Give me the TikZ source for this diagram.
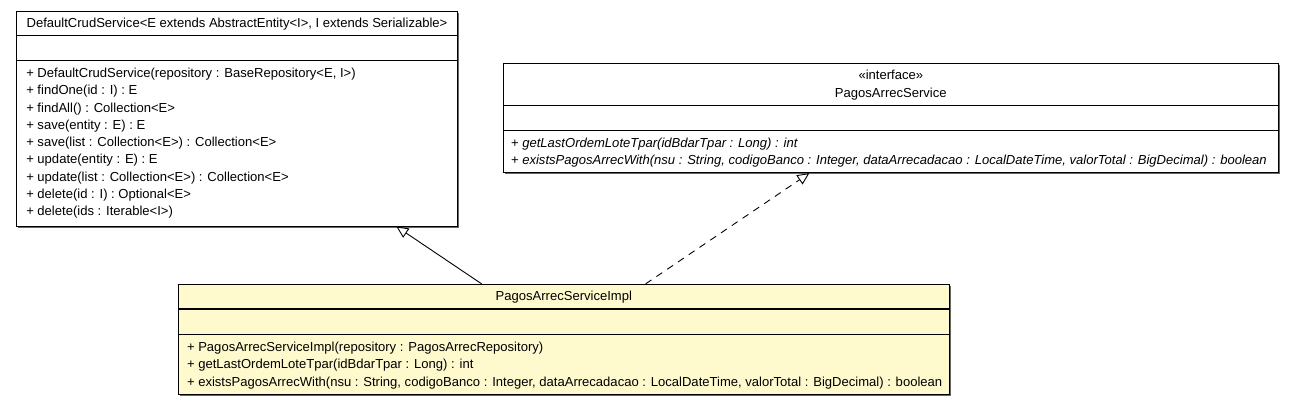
\documentclass[tikz,border=0pt]{standalone}
\usepackage{fontspec}
\setmainfont{Liberation Sans}
\usetikzlibrary{calc}
\usetikzlibrary{arrows.meta}
\usetikzlibrary{shadows}
\definecolor{implfill}{RGB}{255,249,206}

\begin{document}
\begin{tikzpicture}[x=1pt,y=-1pt,
 cls/.style={draw=black, line width=.9pt, fill=white, inner sep=0, drop shadow={shadow xshift=1.5pt, shadow yshift=-1.5pt, fill=black!60, opacity=1}},
 txt/.style={inner sep=0, font=\fontsize{13.05}{15}\selectfont},
 sep/.style={line width=1.3pt},
 gen/.style={line width=.9pt, -{Triangle[open, length=12pt, width=11pt]}}]
\useasboundingbox (0,0) rectangle (1295,405);
\node[cls, minimum width=441pt, minimum height=215pt] (dcs) at (237,118.5) {};
\node[cls, minimum width=775pt, minimum height=109.4pt] (pas) at (890.8,118) {};
\node[cls, fill=implfill, minimum width=771pt, minimum height=110pt] (impl) at (563.8,339.3) {};
\draw[sep] ($(dcs.north west)+(0,25)$) -- ($(dcs.north east)+(0,25)$);
\draw[sep] ($(dcs.north west)+(0,50)$) -- ($(dcs.north east)+(0,50)$);
\draw[sep] ($(pas.north west)+(0,42.4)$) -- ($(pas.north east)+(0,42.4)$);
\draw[sep] ($(pas.north west)+(0,67.4)$) -- ($(pas.north east)+(0,67.4)$);
\draw[sep] ($(impl.north west)+(0,25)$) -- ($(impl.north east)+(0,25)$);
\draw[sep] ($(impl.north west)+(0,50.7)$) -- ($(impl.north east)+(0,50.7)$);
\node[txt, anchor=base] (dcs-name) at ($(dcs.north)+(0,17)$) {DefaultCrudService<E extends AbstractEntity<I>, I extends Serializable>};
\node[txt, anchor=base] (pas-stereo) at ($(pas.north)+(0,17)$) {«interface»};
\node[txt, anchor=base] (pas-name) at ($(pas.north)+(0,34.3)$) {PagosArrecService};
\node[txt, anchor=base] (impl-name) at ($(impl.north)+(0,17)$) {PagosArrecServiceImpl};
\foreach \m [count=\i from 0] in {{+ DefaultCrudService(repository : BaseRepository<E, I>)}, {+ findOne(id : I) : E}, {+ findAll() : Collection<E>}, {+ save(entity : E) : E}, {+ save(list : Collection<E>) : Collection<E>}, {+ update(entity : E) : E}, {+ update(list : Collection<E>) : Collection<E>}, {+ delete(id : I) : Optional<E>}, {+ delete(ids : Iterable<I>)}}
 \node[txt, anchor=base west] (dcs-op\i) at ($(dcs.north west)+(10,67+17.25*\i)$) {\m};
\foreach \m [count=\i from 0] in {{+ \textit{getLastOrdemLoteTpar(idBdarTpar : Long) : int}}, {+ \textit{existsPagosArrecWith(nsu : String, codigoBanco : Integer, dataArrecadacao : LocalDateTime, valorTotal : BigDecimal) : boolean}}}
 \node[txt, anchor=base west] (pas-op\i) at ($(pas.north west)+(8,84.4+17.25*\i)$) {\m};
\foreach \m [count=\i from 0] in {{+ PagosArrecServiceImpl(repository : PagosArrecRepository)}, {+ getLastOrdemLoteTpar(idBdarTpar : Long) : int}, {+ existsPagosArrecWith(nsu : String, codigoBanco : Integer, dataArrecadacao : LocalDateTime, valorTotal : BigDecimal) : boolean}}
 \node[txt, anchor=base west] (impl-op\i) at ($(impl.north west)+(9,67.7+17.25*\i)$) {\m};
\draw[gen] (impl) -- (dcs);
\draw[gen, dash pattern=on 7pt off 6pt] (impl) -- (pas);
\end{tikzpicture}
\end{document}
